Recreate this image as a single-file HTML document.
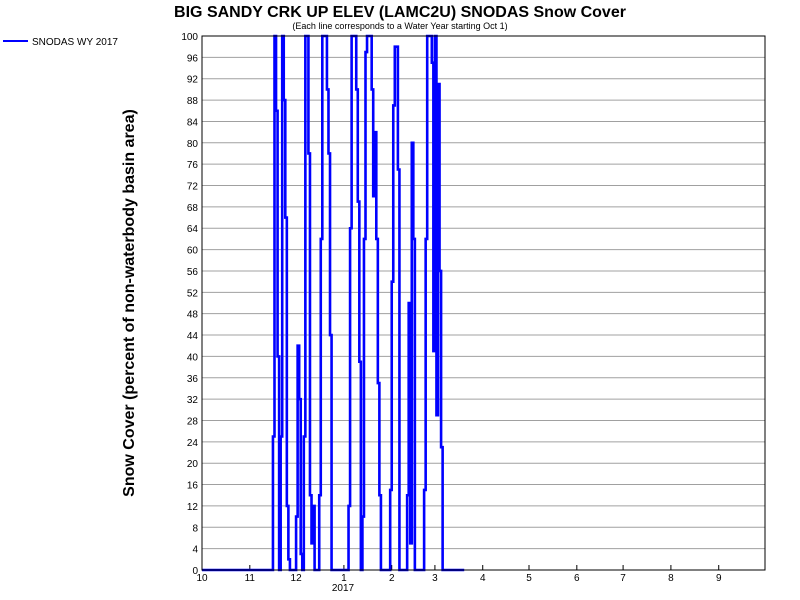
<!DOCTYPE html>
<html><head><meta charset="utf-8">
<style>
body{margin:0;background:#fff;}
svg{display:block;font-family:"Liberation Sans",Arial,sans-serif;}
</style></head>
<body>
<svg id="chart" width="800" height="600" viewBox="0 0 800 600">
<text x="400" y="17" text-anchor="middle" font-size="16" font-weight="bold">BIG SANDY CRK UP ELEV (LAMC2U) SNODAS Snow Cover</text>
<text x="400" y="29" text-anchor="middle" font-size="9">(Each line corresponds to a Water Year starting Oct 1)</text>
<text transform="translate(134,303) rotate(-90)" text-anchor="middle" font-size="16" font-weight="bold">Snow Cover (percent of non-waterbody basin area)</text>
<g>
<line x1="3" y1="41" x2="28" y2="41" stroke="#0000ff" stroke-width="2"/>
<text x="32" y="45" font-size="10">SNODAS WY 2017</text>
</g>
<g id="grid"></g>
<g id="ticks"></g>
<path id="series" fill="none" stroke="#0000ff" stroke-width="2.6"/>
<rect x="202" y="36" width="563" height="534" fill="none" stroke="#000" stroke-width="1"/>
<text x="343" y="591" text-anchor="middle" font-size="10">2017</text>
</svg>
<script>
const yTicks = [0,4,8,12,16,20,24,28,32,36,40,44,48,52,56,60,64,68,72,76,80,84,88,92,96,100];
const monthLabels = ["10","11","12","1","2","3","4","5","6","7","8","9"];
const monthStartDays = [0,31,61,92,123,151,182,212,243,273,304,335];
// daily snow cover values (day index from Oct 1), nonzero days only
const snowDays =   [46,47,48,49,50,51,52,53,54,55,56,57,61,62,63,64,65,66,67,68,69,70,71,72,73,76,77,78,79,80,81,82,83,84,95,96,97,98,99,100,101,102,103,104,105,106,107,108,109,110,111,112,113,114,115,116,122,123,124,125,126,127,128,133,134,135,136,137,138,144,145,146,147,148,149,150,151,152,153,154,155,156];
const snowValues = [25,100,86,40,0,25,100,88,66,12,2,0,10,42,32,3,0,25,100,100,78,14,5,12,0,14,62,100,100,100,90,78,44,0,12,64,100,100,100,90,69,39,0,10,62,97,100,100,100,90,70,82,62,35,14,0,15,54,87,98,98,75,0,14,50,5,80,62,0,15,62,100,100,100,95,41,100,29,91,56,23,0];
const lastDataDay = 170;

const X0=202, X1=765, Y0=570, Y1=36, NDAYS=365;
const xs = d => X0 + d*(X1-X0)/NDAYS;
const ys = v => Y0 - v*(Y0-Y1)/100;
const NS="http://www.w3.org/2000/svg";
const grid=document.getElementById('grid'), ticks=document.getElementById('ticks');

yTicks.forEach(v=>{
  if(v>0 && v<100){
    const l=document.createElementNS(NS,'line');
    l.setAttribute('x1',X0);l.setAttribute('x2',X1);
    l.setAttribute('y1',ys(v));l.setAttribute('y2',ys(v));
    l.setAttribute('stroke','#a0a0a0');l.setAttribute('stroke-width','1');
    
    
    grid.appendChild(l);
  }
  const t=document.createElementNS(NS,'text');
  t.setAttribute('x',198);t.setAttribute('y',ys(v)+4);
  t.setAttribute('text-anchor','end');t.setAttribute('font-size','10');
  t.textContent=v;
  
  
  ticks.appendChild(t);
});
monthLabels.forEach((m,i)=>{
  const x=xs(monthStartDays[i]);
  const l=document.createElementNS(NS,'line');
  l.setAttribute('x1',x);l.setAttribute('x2',x);
  l.setAttribute('y1',Y0);l.setAttribute('y2',Y0-5);
  l.setAttribute('stroke','#000');
  
  
  ticks.appendChild(l);
  const t=document.createElementNS(NS,'text');
  t.setAttribute('x',x);t.setAttribute('y',581);
  t.setAttribute('text-anchor','middle');t.setAttribute('font-size','10');
  t.textContent=m;
  
  
  ticks.appendChild(t);
});
// build step path
const vals=new Array(lastDataDay+1).fill(0);
snowDays.forEach((d,i)=>{vals[d]=snowValues[i];});
let d='M'+xs(0)+' '+ys(vals[0]);
for(let i=1;i<=lastDataDay;i++){
  d+=' L'+xs(i)+' '+ys(vals[i-1])+' L'+xs(i)+' '+ys(vals[i]);
}
document.getElementById('series').setAttribute('d',d);
</script>
</body></html>
